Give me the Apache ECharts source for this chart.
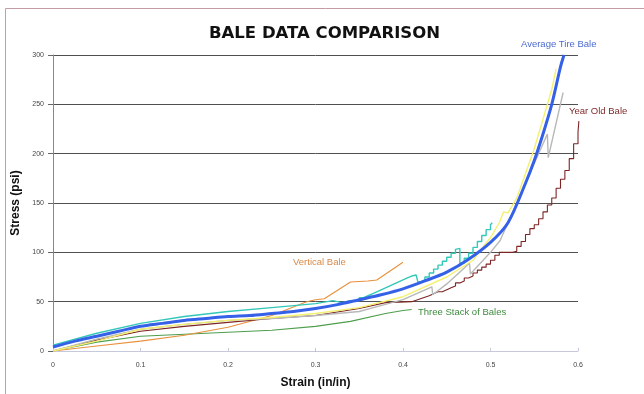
<!DOCTYPE html>
<html>
<head>
<meta charset="utf-8">
<script src="https://cdn.jsdelivr.net/npm/echarts@6/dist/echarts.min.js"></script>
<style>html,body{margin:0;padding:0;background:#fff}#c{width:644px;height:394px}</style>
</head>
<body>
<div id="c"></div>
<script>
// ---- data (strain in/in, stress psi) ----
var xTicks = [0, 0.1, 0.2, 0.3, 0.4, 0.5, 0.6];
var yTicks = [0, 50, 100, 150, 200, 250, 300];

var avgTireBale = [[0,4],[0.025,10],[0.05,15],[0.075,20],[0.1,25],[0.125,28],[0.15,31],[0.175,33],[0.2,35],[0.225,36],[0.25,38],[0.275,40],[0.3,43],[0.325,47],[0.35,52],[0.375,57],[0.4,63],[0.425,71],[0.45,80],[0.475,93],[0.5,110],[0.52,130],[0.54,170],[0.55,193],[0.56,220],[0.57,250],[0.58,288],[0.584,300]];
var yellowBale = [[0,0],[0.05,10],[0.1,22],[0.15,27],[0.2,31],[0.25,34],[0.3,38],[0.35,44],[0.4,55],[0.45,75],[0.48,92],[0.5,115],[0.51,130],[0.515,141],[0.52,140],[0.53,155],[0.54,180],[0.55,205],[0.56,235],[0.57,265],[0.575,286]];
var grayBale = [[0,0],[0.05,12],[0.1,22],[0.15,27],[0.2,31],[0.25,33],[0.3,36],[0.35,40],[0.362,43],[0.4,52],[0.433,65],[0.434,57],[0.45,68],[0.476,89],[0.477,78],[0.5,100],[0.511,112],[0.53,150],[0.55,190],[0.565,220],[0.566,196],[0.583,262]];
var yearOldLow = [[0,0],[0.05,11],[0.1,20],[0.15,25],[0.2,29],[0.25,33],[0.3,36],[0.35,43],[0.38,49],[0.41,50],[0.43,56],[0.44,60]];
var yearOldHigh = [[0.44,60],[0.445,62],[0.45,64],[0.455,66],[0.46,69],[0.465,71],[0.47,74],[0.475,76],[0.48,79],[0.485,82],[0.49,85],[0.495,88],[0.5,92],[0.505,97],[0.51,100],[0.525,101],[0.53,106],[0.535,111],[0.54,118],[0.545,124],[0.55,128],[0.555,134],[0.56,141],[0.565,148],[0.57,155],[0.575,165],[0.58,174],[0.585,183],[0.59,195],[0.595,210],[0.6,222],[0.601,233]];
var cyanLow = [[0,6],[0.05,18],[0.1,28],[0.15,35],[0.2,40],[0.25,44],[0.3,48],[0.32,51],[0.33,49],[0.34,51]];
var cyanHigh = [[0.34,51],[0.35,54],[0.355,56],[0.36,58],[0.365,60],[0.37,62],[0.375,64],[0.38,66],[0.385,68],[0.39,70],[0.395,72],[0.4,74],[0.405,76],[0.41,77],[0.415,78],[0.417,70],[0.42,72],[0.425,75],[0.43,79],[0.435,83],[0.44,87],[0.445,91],[0.45,95],[0.455,99],[0.46,103],[0.462,104],[0.465,89],[0.47,94],[0.475,99],[0.48,105],[0.485,111],[0.49,117],[0.495,123],[0.5,128],[0.502,130]];
var verticalBale = [[0,0],[0.05,5],[0.1,10],[0.15,16],[0.2,24],[0.25,36],[0.29,50],[0.3,52],[0.31,53],[0.34,70],[0.36,71],[0.37,72],[0.4,90]];
var threeStack = [[0,0],[0.05,9],[0.1,15],[0.15,17],[0.2,19],[0.25,21],[0.3,25],[0.34,30],[0.38,38],[0.4,41],[0.41,42]];

var chart = echarts.init(document.getElementById('c'), null, {renderer:'canvas'});
function line(data, color, width, z, step) {
  return {type:'line', data:data, symbol:'none', z:z, step: step || false,
    lineStyle:{color:color, width:width}, silent:true, animation:false};
}
chart.setOption({
  animation:false,
  backgroundColor:'#fff',
  title:{text:'BALE DATA COMPARISON', left:204, top:20,
    textStyle:{fontFamily:'DejaVu Sans', fontWeight:'bold', fontSize:16.5, color:'#111'}},
  grid:{left:53, right:66, top:55, bottom:41},
  xAxis:{type:'value', min:0, max:0.6, interval:0.1,
    name:'Strain (in/in)', nameLocation:'middle', nameGap:26,
    nameTextStyle:{fontFamily:'Liberation Sans', fontWeight:'bold', fontSize:12, color:'#111'},
    axisLine:{show:true, lineStyle:{color:'#c8c8dc'}},
    axisTick:{show:true, inside:true, length:3, lineStyle:{color:'#c8c8dc'}},
    axisLabel:{fontFamily:'Liberation Sans', fontSize:7, color:'#444', margin:11,
      formatter:function(v){ return xTicks.indexOf(Math.round(v*10)/10) >= 0 ? String(Math.round(v*10)/10) : ''; }},
    splitLine:{show:false}},
  yAxis:{type:'value', min:0, max:300, interval:50,
    name:'Stress (psi)', nameLocation:'middle', nameGap:29, nameRotate:90,
    nameTextStyle:{fontFamily:'Liberation Sans', fontWeight:'bold', fontSize:12, color:'#111'},
    axisLine:{show:true, lineStyle:{color:'#888'}},
    axisTick:{show:true, length:5, lineStyle:{color:'#666'}},
    axisLabel:{fontFamily:'Liberation Sans', fontSize:7, color:'#444', margin:9,
      formatter:function(v){ return yTicks.indexOf(v) >= 0 ? String(v) : ''; }},
    splitLine:{show:true, lineStyle:{color:'#505050', width:1}}},
  series:[
    line(threeStack, '#4e9e4e', 1.1, 2),
    line(verticalBale, '#e8903c', 1.1, 2),
    line(yearOldLow, '#7e2424', 1.1, 3),
    line(yearOldHigh, '#7e2424', 1.1, 3, 'end'),
    line(grayBale, '#b8b8b8', 1.4, 3),
    line(yellowBale, '#f4f070', 1.4, 3),
    line(cyanLow, '#33c8b8', 1.4, 4),
    line(cyanHigh, '#33c8b8', 1.4, 4, 'end'),
    Object.assign(line(avgTireBale, '#3560e8', 3, 10), {smooth:0.3})
  ],
  graphic:[
    {type:'rect', shape:{x:5.5, y:8.5, width:700, height:500}, style:{fill:'none', stroke:'#c49ca4', lineWidth:1}, z:0, silent:true},
    {type:'text', left:521, top:39, style:{text:'Average Tire Bale', fill:'#4a6ad0', font:'9.5px "Liberation Sans"'}},
    {type:'text', left:569, top:106, style:{text:'Year Old Bale', fill:'#7e2a2a', font:'9.5px "Liberation Sans"'}},
    {type:'text', left:293, top:257, style:{text:'Vertical Bale', fill:'#d88a48', font:'9.5px "Liberation Sans"'}},
    {type:'text', left:418, top:307, style:{text:'Three Stack of Bales', fill:'#3e8a3e', font:'9.5px "Liberation Sans"'}}
  ]
});
</script>
</body>
</html>
